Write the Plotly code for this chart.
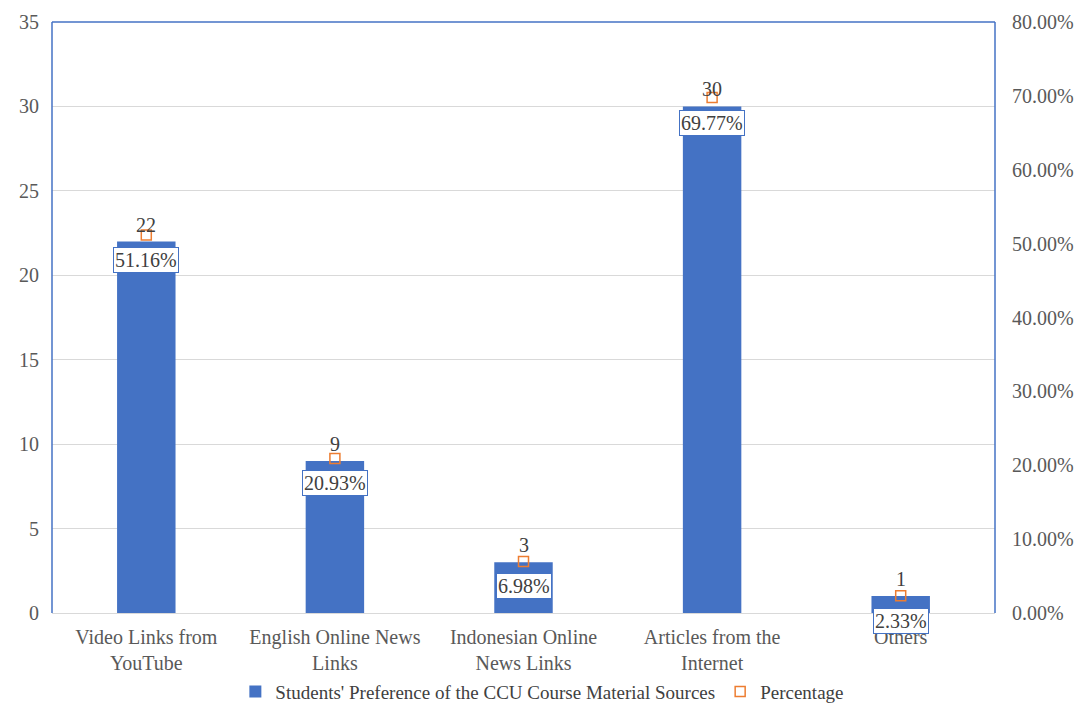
import plotly.graph_objects as go

categories = ["Video Links from<br>YouTube", "English Online News<br>Links",
              "Indonesian Online<br>News Links", "Articles from the<br>Internet", "Others"]
counts = [22, 9, 3, 30, 1]
percentages = [0.5116, 0.2093, 0.0698, 0.6977, 0.0233]
pct_labels = ["51.16%", "20.93%", "6.98%", "69.77%", "2.33%"]

FONT = "Liberation Serif"
BLUE = "#4472C4"
ORANGE = "#ED7D31"
GRAY = "#595959"
DARK = "#404040"
FS = 20

fig = go.Figure()
fig.add_trace(go.Bar(
    x=categories, y=counts, name="Students' Preference of the CCU Course Material Sources",
    marker=dict(color=BLUE, line=dict(width=0)), yaxis="y",
))
fig.add_trace(go.Scatter(
    x=categories, y=percentages, name="Percentage", mode="markers",
    marker=dict(symbol="square-open", size=10, color=ORANGE, line=dict(width=1.5)),
    yaxis="y2", cliponaxis=False,
))

for c, v in zip(categories, counts):
    fig.add_annotation(x=c, y=v, xref="x", yref="y", text=str(v), showarrow=False,
                       yanchor="bottom", yshift=4,
                       font=dict(family=FONT, size=FS, color=DARK))

for c, p, t in zip(categories, percentages, pct_labels):
    fig.add_annotation(x=c, y=p, xref="x", yref="y2", text=t, showarrow=False,
                       yshift=-25, bgcolor="white", bordercolor=BLUE, borderwidth=1,
                       borderpad=1, font=dict(family=FONT, size=FS, color=DARK))

# plot-area border (left, top, right)
for x0, y0, x1, y1 in [(0, 0, 0, 1), (0, 1, 1, 1), (1, 0, 1, 1)]:
    fig.add_shape(type="line", xref="paper", yref="paper", x0=x0, y0=y0, x1=x1, y1=y1,
                  line=dict(color=BLUE, width=1.5))

fig.update_layout(
    width=1079, height=706,
    margin=dict(l=52, r=84, t=22, b=93, autoexpand=False),
    paper_bgcolor="white", plot_bgcolor="white",
    bargap=0.69,
    font=dict(family=FONT, size=FS, color=GRAY),
    xaxis=dict(showline=True, linecolor="#D9D9D9", linewidth=1, ticks="",
               ticklabelstandoff=6, automargin=False,
               tickfont=dict(family=FONT, size=FS, color=GRAY)),
    yaxis=dict(range=[0, 35], dtick=5, showgrid=True, gridcolor="#D9D9D9",
               zeroline=False, showline=False, ticks="", ticklabelstandoff=12,
               automargin=False,
               tickfont=dict(family=FONT, size=FS, color=GRAY)),
    yaxis2=dict(range=[0, 0.8], dtick=0.1, tickformat=".2%", overlaying="y", side="right",
                showgrid=False, zeroline=False, showline=False, ticks="",
                ticklabelstandoff=16, automargin=False,
                tickfont=dict(family=FONT, size=FS, color=GRAY)),
    legend=dict(orientation="h", x=0.52, xanchor="center",
                y=-0.133, yanchor="middle", font=dict(family=FONT, size=FS - 1, color=DARK),
                itemwidth=30, traceorder="normal"),
    showlegend=True,
)

fig.write_html("out.html")
